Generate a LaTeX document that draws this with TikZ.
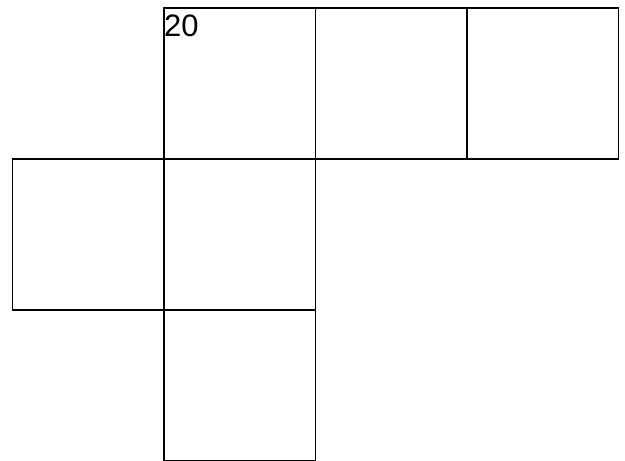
\documentclass[tikz,border=0pt]{standalone}
\usepackage{fontspec}
\setmainfont{Liberation Sans}
\begin{document}
\begin{tikzpicture}[x=1pt,y=-1pt,
  face/.style={draw=black,line width=1.8pt,minimum width=151.5pt,minimum height=151pt,inner sep=0pt,outer sep=0pt,anchor=north west},
  lbl/.style={font=\fontsize{31}{31}\selectfont,inner sep=0pt,anchor=north west}]
\useasboundingbox (0,0) rectangle (625,461);
\node[face] (f1) at (164,8) {};
\node[face] (f2) at (315.5,8) {};
\node[face] (f3) at (467,8) {};
\node[face] (f4) at (12.5,159) {};
\node[face] (f5) at (164,159) {};
\node[face] (f6) at (164,310) {};
\node[lbl] (t) at (164,15) {20};
\end{tikzpicture}
\end{document}
